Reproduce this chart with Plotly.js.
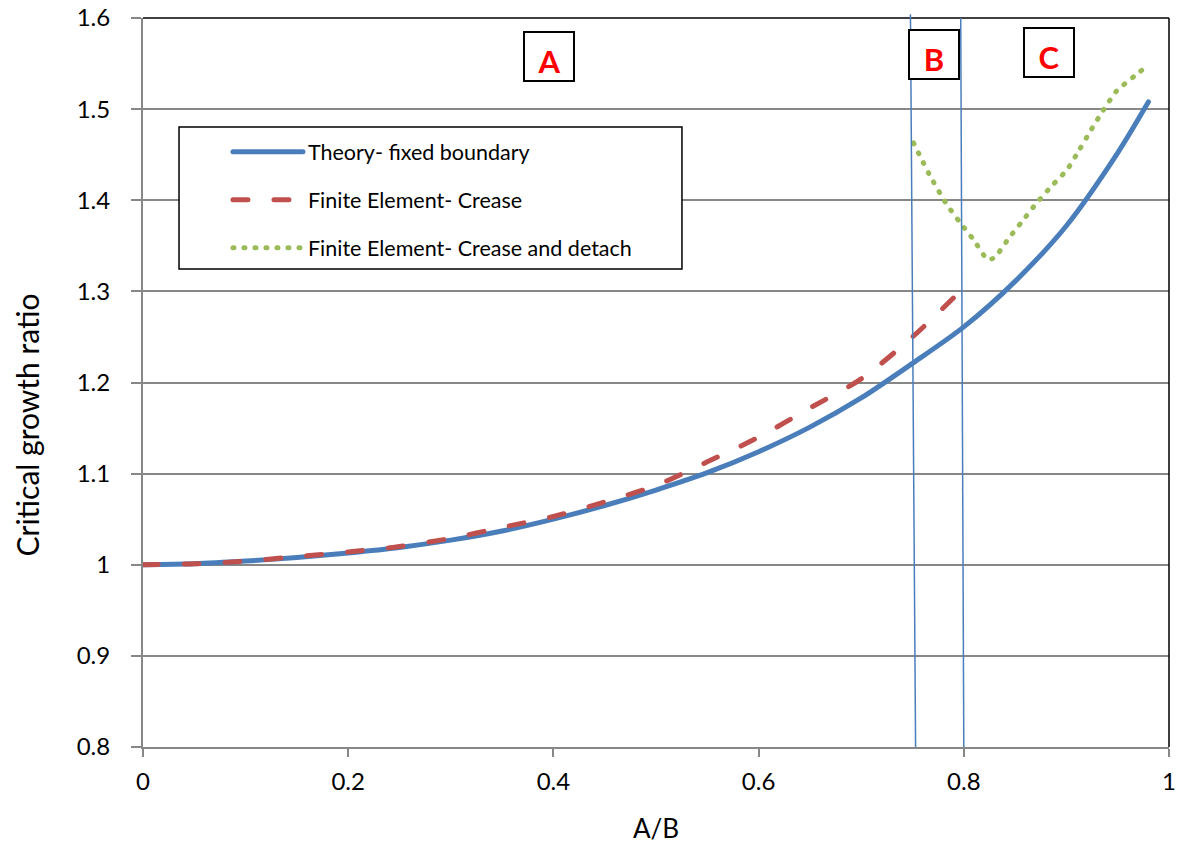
<!DOCTYPE html>
<html>
<head>
<meta charset="utf-8">
<script src="https://cdn.plot.ly/plotly-3.0.1.min.js"></script>
<style>
  html, body { margin: 0; padding: 0; background: #ffffff; }
  path.js-line { stroke-linecap: round !important; stroke-linejoin: round !important; }
</style>
</head>
<body>
<div id="chart" style="width:1181px;height:850px;"></div>
<script>
// ---- data ----
const theoryX = [0, 0.05, 0.1, 0.15, 0.2, 0.25, 0.3, 0.35, 0.4, 0.45, 0.5, 0.55, 0.6, 0.65, 0.7, 0.75, 0.8, 0.85, 0.9, 0.95, 0.98];
const theoryY = [1.000, 1.001, 1.004, 1.008, 1.013, 1.019, 1.027, 1.037, 1.050, 1.065, 1.082, 1.101, 1.124, 1.151, 1.183, 1.221, 1.261, 1.311, 1.372, 1.452, 1.508];

const creaseX = [0, 0.05, 0.1, 0.15, 0.2, 0.25, 0.3, 0.35, 0.4, 0.45, 0.5, 0.55, 0.6, 0.65, 0.7, 0.75, 0.8];
const creaseY = [1.000, 1.001, 1.004, 1.009, 1.014, 1.020, 1.029, 1.041, 1.053, 1.069, 1.087, 1.113, 1.140, 1.172, 1.204, 1.250, 1.304];

const detachX = [0.751, 0.766, 0.783, 0.796, 0.810, 0.823, 0.830, 0.843, 0.857, 0.871, 0.886, 0.901, 0.913, 0.924, 0.936, 0.949, 0.966, 0.975];
const detachY = [1.463, 1.429, 1.396, 1.376, 1.356, 1.335, 1.337, 1.357, 1.377, 1.397, 1.416, 1.434, 1.456, 1.477, 1.499, 1.520, 1.536, 1.544];

const seriesNames = ["Theory- fixed boundary", "Finite Element- Crease", "Finite Element- Crease and detach"];

// region boundary lines (A/B and B/C), x at bottom and top of plot
const boundaryXBottom = [0.753, 0.800];
const boundaryXTop = [0.748, 0.797];
const regionLabels = ["A", "B", "C"];

const xTickVals = [0, 0.2, 0.4, 0.6, 0.8, 1];
const yTickVals = [0.8, 0.9, 1, 1.1, 1.2, 1.3, 1.4, 1.5, 1.6];

// ---- styling ----
const FONT = "Lato, 'Open Sans', sans-serif";
const GRID = "#878787";

const traces = [
  { x: theoryX, y: theoryY, name: seriesNames[0], mode: "lines", legendgroup: "g1",
    line: { color: "#4A7EBB", width: 5, shape: "spline", smoothing: 0.8 } },
  { x: creaseX, y: creaseY, name: seriesNames[1], mode: "lines", legendgroup: "g2",
    line: { color: "#C0504D", width: 5, dash: "15px,26px", shape: "spline", smoothing: 0.8 } },
  { x: detachX, y: detachY, name: seriesNames[2], mode: "lines", legendgroup: "g3",
    line: { color: "#9BBB59", width: 5, dash: "1px,10px", shape: "spline", smoothing: 0.5 } }
];

const shapes = [
  // plot border top & right
  { type: "line", xref: "paper", yref: "paper", x0: 0, x1: 1, y0: 1, y1: 1, line: { color: "#000000", width: 1.5 } },
  { type: "line", xref: "paper", yref: "paper", x0: 1, x1: 1, y0: 0, y1: 1, line: { color: "#000000", width: 1.5 } },
  // legend box
  { type: "rect", xref: "paper", yref: "paper", x0: 0.0351, x1: 0.5253, y0: 0.6557, y1: 0.8505,
    fillcolor: "#ffffff", line: { color: "#000000", width: 1.5 }, layer: "above" },
  // region boundaries
  { type: "line", xref: "x", yref: "paper", x0: boundaryXBottom[0], x1: boundaryXTop[0], y0: 0, y1: 1.005,
    line: { color: "#4A7EBB", width: 1.5 } },
  { type: "line", xref: "x", yref: "paper", x0: boundaryXBottom[1], x1: boundaryXTop[1], y0: 0, y1: 1.0,
    line: { color: "#4A7EBB", width: 1.5 } }
];

const labelPos = [[0.3957, 0.947], [0.771, 0.950], [0.883, 0.9527]];
const annotations = regionLabels.map((t, i) => ({
  text: "<b>" + t + "</b>", xref: "paper", yref: "paper", x: labelPos[i][0], y: labelPos[i][1],
  xanchor: "center", yanchor: "middle", showarrow: false,
  font: { family: FONT, size: 31, color: "#FF0000" },
  bgcolor: "#ffffff", bordercolor: "#000000", borderwidth: 2, borderpad: 0,
  width: 48, height: 47, valign: "bottom"
}));
annotations.push({
  text: "Critical growth ratio", xref: "paper", yref: "paper", x: -0.1126, y: 0.4417,
  xanchor: "center", yanchor: "middle", showarrow: false, textangle: -90,
  font: { family: FONT, size: 30, color: "#000000" }
});

const layout = {
  width: 1181, height: 850,
  margin: { l: 143, r: 12, t: 18, b: 103, pad: 0 },
  paper_bgcolor: "#ffffff", plot_bgcolor: "#ffffff",
  font: { family: FONT, color: "#000000" },
  showlegend: true,
  legend: {
    x: 0.0828, y: 0.8446, xanchor: "left", yanchor: "top",
    bgcolor: "rgba(0,0,0,0)", borderwidth: 0,
    font: { family: FONT, size: 21.5, color: "#000000" },
    itemwidth: 70, tracegroupgap: 17
  },
  xaxis: {
    range: [0, 1], tickvals: xTickVals, ticktext: xTickVals.map(String),
    showgrid: false, zeroline: false,
    showline: true, linecolor: GRID, linewidth: 2,
    ticks: "outside", ticklen: 8, tickwidth: 2, tickcolor: GRID,
    tickfont: { family: FONT, size: 24, color: "#000000" },
    ticklabelstandoff: 4,
    title: { text: "A/B", font: { family: FONT, size: 26, color: "#000000" }, standoff: 26 }
  },
  yaxis: {
    range: [0.8, 1.6], tickvals: yTickVals, ticktext: yTickVals.map(String),
    showgrid: true, gridcolor: GRID, gridwidth: 2, zeroline: false,
    showline: true, linecolor: GRID, linewidth: 2,
    ticks: "outside", ticklen: 10, tickwidth: 2, tickcolor: GRID,
    tickfont: { family: FONT, size: 24, color: "#000000" },
    ticklabelstandoff: 16
  },
  shapes: shapes,
  annotations: annotations
};

Plotly.newPlot("chart", traces, layout, { staticPlot: true, displayModeBar: false });
</script>
</body>
</html>
